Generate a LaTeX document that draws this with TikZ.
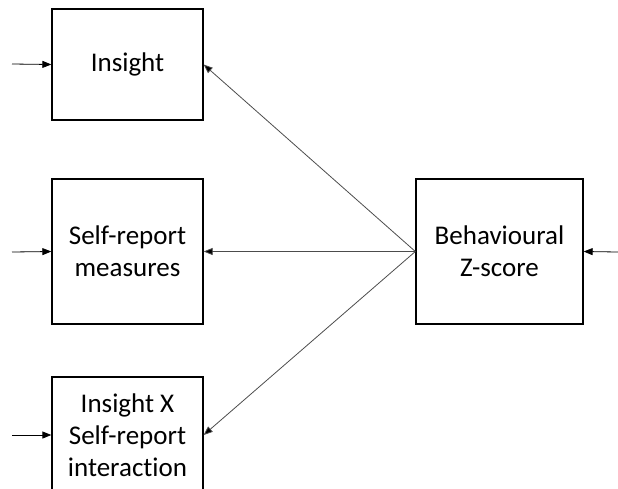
\documentclass[tikz,border=0pt]{standalone}
\usepackage{fontspec}
\setmainfont{Carlito}[Ligatures=NoCommon]
\usetikzlibrary{arrows.meta}
\begin{document}
\begin{tikzpicture}[x=1pt,y=-1pt,
  box/.style={draw=black,line width=1.3pt,minimum width=151pt,align=center,inner sep=0pt,
    font=\fontsize{27}{32}\selectfont},
  link/.style={draw=black!70,line width=0.8pt,-{Triangle[length=9pt,width=7pt,fill=black]}},
  feed/.style={link,draw=black}]
\useasboundingbox (0,0) rectangle (618,488);
\clip (0,0) rectangle (618,488);
\node[box,minimum height=111pt] (ins) at (127.5,64.5) {Insight};
\node[box,minimum height=145pt] (srm) at (127.5,251.5) {Self-report\\measures};
\node[box,minimum height=116pt] (int) at (127.5,435) {Insight X\\Self-report\\interaction};
\node[box,minimum width=167pt,minimum height=145pt] (bz) at (499.5,251.5) {Behavioural\\Z-score};
\coordinate (hub) at (bz.west);
\coordinate (a1) at (12,64);
\coordinate (a2) at (12,252);
\coordinate (a3) at (12,435);
\coordinate (a4) at (618,252);
\draw[link] (hub) -- (ins.east);
\draw[link] (hub) -- (srm.east);
\draw[link] (hub) -- (int.east);
\draw[feed] (a1) -- (ins.west);
\draw[feed] (a2) -- (srm.west);
\draw[feed] (a3) -- (int.west);
\draw[feed] (a4) -- (bz.east);
\end{tikzpicture}
\end{document}
